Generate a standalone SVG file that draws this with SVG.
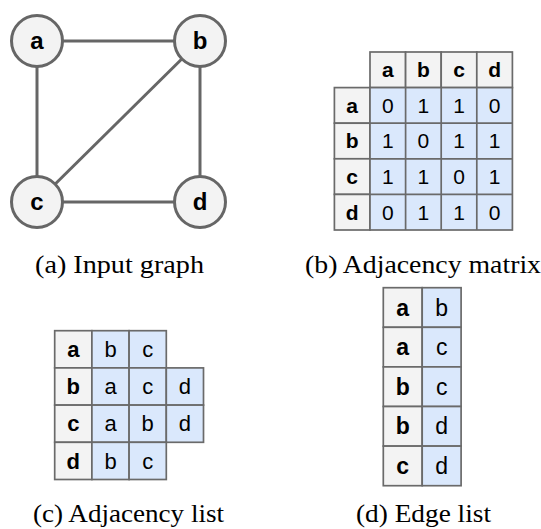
<svg xmlns="http://www.w3.org/2000/svg" width="541" height="529" viewBox="0 0 541 529">
<style>
.edge{stroke:#666;stroke-width:3;fill:none}
.node{fill:#f3f3f3;stroke:#666;stroke-width:3}
.nl{font-family:"Liberation Sans",Arial,sans-serif;font-weight:bold;font-size:24px;fill:#000;text-anchor:middle}
.h{fill:#f3f3f3;stroke:#6a6a6a;stroke-width:1.7}
.d{fill:#dae8fc;stroke:#6a6a6a;stroke-width:1.7}
.tb{font-family:"Liberation Sans",Arial,sans-serif;font-weight:bold;fill:#000;text-anchor:middle}
.tr{font-family:"Liberation Sans",Arial,sans-serif;fill:#000;text-anchor:middle}
.m{font-size:21px}
.l{font-size:22px}
.e{font-size:23px}
.cap{font-family:"Liberation Serif","Times New Roman",serif;font-size:25px;fill:#000}
</style>
<g id="connectors">
<line class="edge" x1="37" y1="41" x2="200" y2="41"/>
<line class="edge" x1="37" y1="41" x2="37" y2="202"/>
<line class="edge" x1="200" y1="41" x2="37" y2="202"/>
<line class="edge" x1="200" y1="41" x2="200" y2="202"/>
<line class="edge" x1="37" y1="202" x2="200" y2="202"/>
</g>
<g id="node-a"><circle class="node" cx="37" cy="41" r="25.5"/><text class="nl" x="37" y="49">a</text></g>
<g id="node-b"><circle class="node" cx="200" cy="41" r="25.5"/><text class="nl" x="200" y="49">b</text></g>
<g id="node-c"><circle class="node" cx="37" cy="202" r="25.5"/><text class="nl" x="37" y="210">c</text></g>
<g id="node-d"><circle class="node" cx="200" cy="202" r="25.5"/><text class="nl" x="200" y="210">d</text></g>

<g id="adjacency-matrix">
<rect class="h" x="370" y="52" width="35.6" height="35.6"/>
<rect class="h" x="405.6" y="52" width="35.6" height="35.6"/>
<rect class="h" x="441.2" y="52" width="35.6" height="35.6"/>
<rect class="h" x="476.8" y="52" width="35.6" height="35.6"/>
<rect class="h" x="334.4" y="87.6" width="35.6" height="35.6"/>
<rect class="h" x="334.4" y="123.2" width="35.6" height="35.6"/>
<rect class="h" x="334.4" y="158.8" width="35.6" height="35.6"/>
<rect class="h" x="334.4" y="194.4" width="35.6" height="35.6"/>
<rect class="d" x="370" y="87.6" width="142.4" height="142.4"/>
<path d="M405.6 87.6V230M441.2 87.6V230M476.8 87.6V230M370 123.2H512.4M370 158.8H512.4M370 194.4H512.4" stroke="#6a6a6a" stroke-width="1.7" fill="none"/>
<text class="tb m" x="387.8" y="77.2">a</text>
<text class="tb m" x="423.4" y="77.2">b</text>
<text class="tb m" x="459" y="77.2">c</text>
<text class="tb m" x="494.6" y="77.2">d</text>
<text class="tb m" x="352.2" y="112.8">a</text>
<text class="tb m" x="352.2" y="148.4">b</text>
<text class="tb m" x="352.2" y="184">c</text>
<text class="tb m" x="352.2" y="219.6">d</text>
<text class="tr m" x="387.8" y="112.8">0</text><text class="tr m" x="423.4" y="112.8">1</text><text class="tr m" x="459" y="112.8">1</text><text class="tr m" x="494.6" y="112.8">0</text>
<text class="tr m" x="387.8" y="148.4">1</text><text class="tr m" x="423.4" y="148.4">0</text><text class="tr m" x="459" y="148.4">1</text><text class="tr m" x="494.6" y="148.4">1</text>
<text class="tr m" x="387.8" y="184">1</text><text class="tr m" x="423.4" y="184">1</text><text class="tr m" x="459" y="184">0</text><text class="tr m" x="494.6" y="184">1</text>
<text class="tr m" x="387.8" y="219.6">0</text><text class="tr m" x="423.4" y="219.6">1</text><text class="tr m" x="459" y="219.6">1</text><text class="tr m" x="494.6" y="219.6">0</text>
</g>

<g id="adjacency-list">
<rect class="h" x="54.7" y="330.7" width="37.2" height="37.2"/>
<rect class="h" x="54.7" y="367.9" width="37.2" height="37.2"/>
<rect class="h" x="54.7" y="405.1" width="37.2" height="37.2"/>
<rect class="h" x="54.7" y="442.3" width="37.2" height="37.2"/>
<rect class="d" x="91.9" y="330.7" width="37.2" height="37.2"/>
<rect class="d" x="129.1" y="330.7" width="37.2" height="37.2"/>
<rect class="d" x="91.9" y="367.9" width="37.2" height="37.2"/>
<rect class="d" x="129.1" y="367.9" width="37.2" height="37.2"/>
<rect class="d" x="166.3" y="367.9" width="37.2" height="37.2"/>
<rect class="d" x="91.9" y="405.1" width="37.2" height="37.2"/>
<rect class="d" x="129.1" y="405.1" width="37.2" height="37.2"/>
<rect class="d" x="166.3" y="405.1" width="37.2" height="37.2"/>
<rect class="d" x="91.9" y="442.3" width="37.2" height="37.2"/>
<rect class="d" x="129.1" y="442.3" width="37.2" height="37.2"/>
<text class="tb l" x="73.3" y="357">a</text>
<text class="tb l" x="73.3" y="394.2">b</text>
<text class="tb l" x="73.3" y="431.4">c</text>
<text class="tb l" x="73.3" y="468.6">d</text>
<text class="tr l" x="110.5" y="357">b</text><text class="tr l" x="147.7" y="357">c</text>
<text class="tr l" x="110.5" y="394.2">a</text><text class="tr l" x="147.7" y="394.2">c</text><text class="tr l" x="184.9" y="394.2">d</text>
<text class="tr l" x="110.5" y="431.4">a</text><text class="tr l" x="147.7" y="431.4">b</text><text class="tr l" x="184.9" y="431.4">d</text>
<text class="tr l" x="110.5" y="468.6">b</text><text class="tr l" x="147.7" y="468.6">c</text>
</g>

<g id="edge-list">
<rect class="h" x="383.3" y="287.7" width="38.9" height="39.6"/>
<rect class="h" x="383.3" y="327.3" width="38.9" height="39.6"/>
<rect class="h" x="383.3" y="366.9" width="38.9" height="39.6"/>
<rect class="h" x="383.3" y="406.5" width="38.9" height="39.6"/>
<rect class="h" x="383.3" y="446.1" width="38.9" height="39.6"/>
<rect class="d" x="422.2" y="287.7" width="38.9" height="39.6"/>
<rect class="d" x="422.2" y="327.3" width="38.9" height="39.6"/>
<rect class="d" x="422.2" y="366.9" width="38.9" height="39.6"/>
<rect class="d" x="422.2" y="406.5" width="38.9" height="39.6"/>
<rect class="d" x="422.2" y="446.1" width="38.9" height="39.6"/>
<text class="tb e" x="402.75" y="315.6">a</text><text class="tr e" x="441.65" y="315.6">b</text>
<text class="tb e" x="402.75" y="355.2">a</text><text class="tr e" x="441.65" y="355.2">c</text>
<text class="tb e" x="402.75" y="394.8">b</text><text class="tr e" x="441.65" y="394.8">c</text>
<text class="tb e" x="402.75" y="434.4">b</text><text class="tr e" x="441.65" y="434.4">d</text>
<text class="tb e" x="402.75" y="474">c</text><text class="tr e" x="441.65" y="474">d</text>
</g>

<g id="captions">
<text class="cap" x="35" y="273" textLength="169" lengthAdjust="spacingAndGlyphs">(a) Input graph</text>
<text class="cap" x="305" y="273" textLength="236" lengthAdjust="spacingAndGlyphs">(b) Adjacency matrix</text>
<text class="cap" x="33" y="522" textLength="191" lengthAdjust="spacingAndGlyphs">(c) Adjacency list</text>
<text class="cap" x="356" y="522" textLength="135" lengthAdjust="spacingAndGlyphs">(d) Edge list</text>
</g>
</svg>
